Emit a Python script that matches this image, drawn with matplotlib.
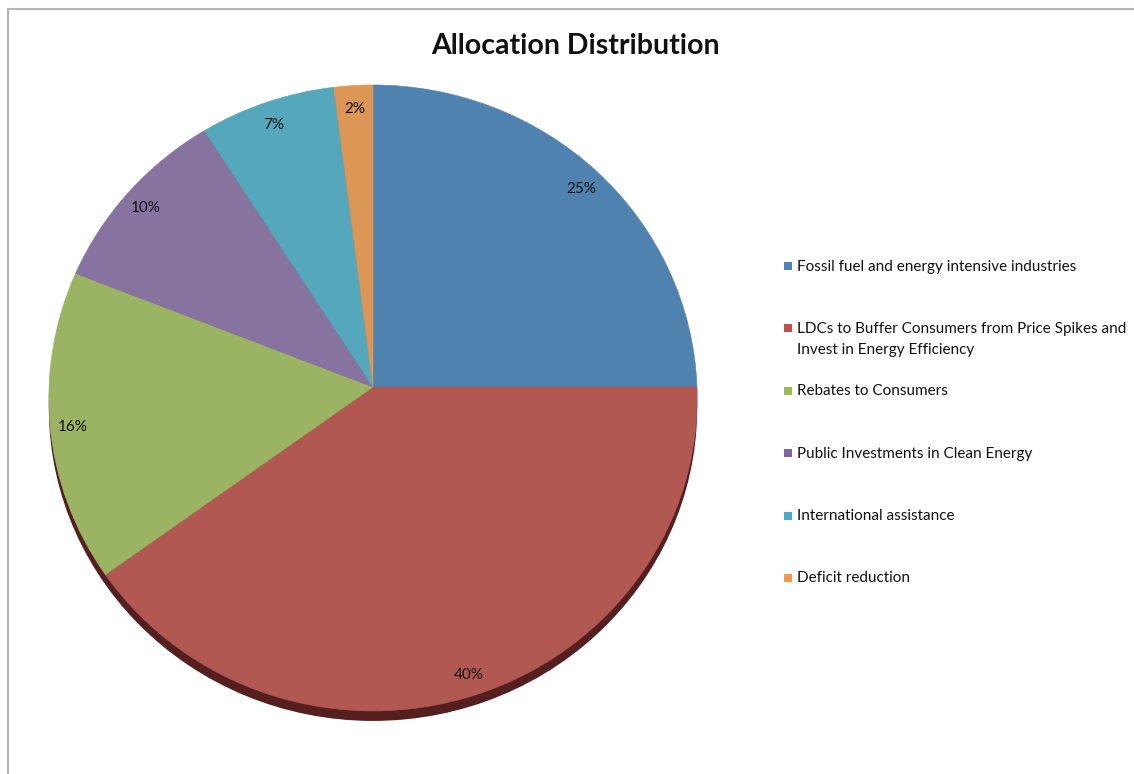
import numpy as np
import matplotlib
matplotlib.use("Agg")
import matplotlib.pyplot as plt
from matplotlib.transforms import Transform, offset_copy
from matplotlib.patches import Rectangle, Circle
from matplotlib.lines import Line2D

# data
labels = [
    "Fossil fuel and energy intensive industries",
    "LDCs to Buffer Consumers from Price Spikes and\nInvest in Energy Efficiency",
    "Rebates to Consumers",
    "Public Investments in Clean Energy",
    "International assistance",
    "Deficit reduction",
]
shares = [25, 40, 16, 10, 7, 2]
slice_colors = ["#5082b0", "#b25852", "#9bb464", "#8773a0", "#55a8bc", "#dc9655"]
key_colors = ["#4f81bd", "#c0504d", "#9bbb59", "#8064a2", "#4bacc6", "#f79646"]
title = "Allocation Distribution"

plt.rcParams["font.family"] = ["Lato", "DejaVu Sans"]

W, H = 1134, 774
fig = plt.figure(figsize=(W / 100, H / 100), dpi=100)


def fx(px):
    return px / W


def fy(py):
    return 1 - py / H


class Tilt(Transform):
    # perspective view of a pie lying on a tilted plane
    input_dims = 2
    output_dims = 2

    def __init__(self, k):
        super().__init__()
        self.k = k

    def transform_non_affine(self, values):
        v = np.asarray(values, dtype=float)
        one = v.ndim == 1
        v = np.atleast_2d(v)
        w = 1 + self.k * v[:, 1]
        out = np.column_stack([v[:, 0] / w, v[:, 1] / w])
        return out[0] if one else out


# pie centre at (373, 387) px, 324 px/unit across, 312.6 px/unit up-down
cx, cy, sx, sy = 373, 387, 324, 312.6
ax = fig.add_axes([0, 0, 1, 1])
wedges, _, pcts = ax.pie(shares, colors=slice_colors, startangle=90,
                         counterclock=False, autopct="%1.0f%%", pctdistance=0.93,
                         wedgeprops=dict(linewidth=0.4, edgecolor="none"),
                         textprops=dict(fontsize=11, color="#111111"))
ax.set_aspect("auto")
ax.set_xlim(-cx / sx, (W - cx) / sx)
ax.set_ylim(-(H - cy) / sy, cy / sy)
ax.axis("off")

tilt = Tilt(0.035)
for w, c in zip(wedges, slice_colors):
    w.set_transform(tilt + ax.transData)
    w.set_edgecolor(c)
label_tr = tilt + offset_copy(ax.transData, fig=fig, x=0, y=-3, units="dots")
for t in pcts:
    t.set_transform(label_tr)

# side of the 3D pie, visible under the front edge
side = Circle((0, 0), 1, facecolor="#561f1f", edgecolor="none", zorder=0,
              transform=tilt + offset_copy(ax.transData, fig=fig, x=0, y=-10, units="dots"))
ax.add_patch(side)

fig.text(fx(575), fy(46), title, ha="center", va="center",
         fontsize=20.5, fontweight="bold", color="#111111")

# legend
for i, (lab, c) in enumerate(zip(labels, key_colors)):
    yc = 266 + 62.4 * i
    fig.patches.append(Rectangle((fx(784), fy(yc + 4)), fx(8), 8 / H, facecolor=c,
                                 edgecolor="none", transform=fig.transFigure, figure=fig))
    fig.text(fx(797), fy(yc - 6.5), lab, ha="left", va="top", fontsize=11,
             color="#111111", linespacing=1.62)

# chart frame
frame = dict(color="#b4b4b4", linewidth=1.5, transform=fig.transFigure)
fig.add_artist(Line2D([fx(8), 1], [fy(9), fy(9)], **frame))
fig.add_artist(Line2D([fx(8), fx(8)], [fy(9), 0], **frame))

fig.savefig("out.png", dpi=100)
